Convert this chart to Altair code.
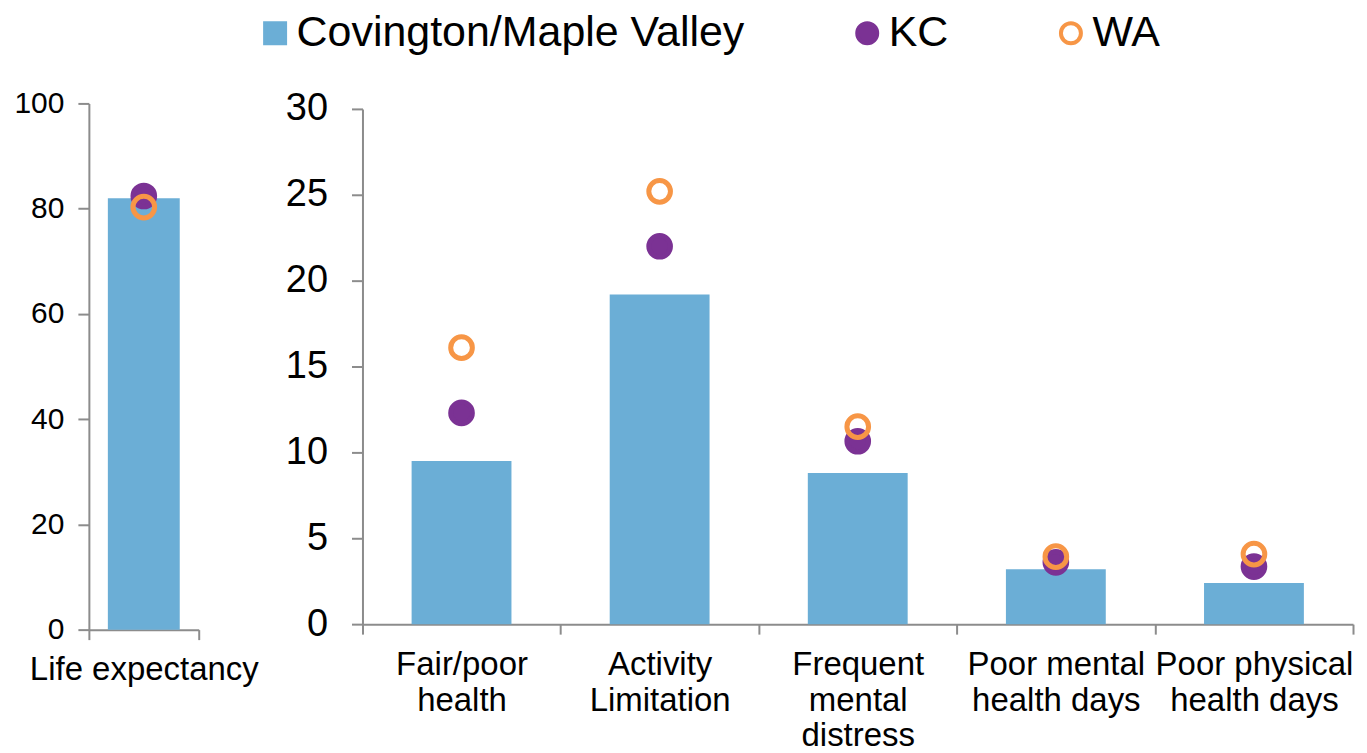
import altair as alt
import pandas as pd

series = ["Covington/Maple Valley", "KC", "WA"]
series_colors = ["#6BAED6", "#7B3294", "#F79646"]
series_fill = ["#6BAED6", "#7B3294", "transparent"]
series_shape = ["square", "circle", "circle"]

left_measures = ["Life expectancy"]
left_area = [82.0]
left_kc = [82.4]
left_wa = [80.3]

right_measures = ["Fair/poor health", "Activity Limitation", "Frequent mental distress",
                  "Poor mental health days", "Poor physical health days"]
right_label_lines = [["Fair/poor", "health"], ["Activity", "Limitation"],
                     ["Frequent", "mental", "distress"], ["Poor mental", "health days"],
                     ["Poor physical", "health days"]]
right_area = [9.5, 19.2, 8.8, 3.2, 2.4]
right_kc = [12.3, 22.0, 10.65, 3.6, 3.35]
right_wa = [16.1, 25.2, 11.5, 3.93, 4.08]


def long(measures, area, kc, wa):
    rows = []
    for m, a, k, w in zip(measures, area, kc, wa):
        rows.append({"measure": m, "series": series[0], "value": a})
        rows.append({"measure": m, "series": series[1], "value": k})
        rows.append({"measure": m, "series": series[2], "value": w})
    return pd.DataFrame(rows)


df_left = long(left_measures, left_area, left_kc, left_wa)
df_right = long(right_measures, right_area, right_kc, right_wa)

FONT = "Liberation Sans"
AXIS_COLOR = "#8C8C8C"

fill_enc = alt.Fill("series:N", scale=alt.Scale(domain=series, range=series_fill),
                    legend=alt.Legend(title=None, orient="none", direction="horizontal",
                                      legendX=165, legendY=-92, labelFontSize=43,
                                      labelFont=FONT, labelColor="#000000",
                                      columnPadding=101, labelOffset=0,
                                      symbolSize=400, symbolStrokeWidth=4,
                                      labelLimit=600))
stroke_enc = alt.Stroke("series:N", scale=alt.Scale(domain=series, range=series_colors))
shape_enc = alt.Shape("series:N", scale=alt.Scale(domain=series, range=series_shape))

label_map = {m: l for m, l in zip(right_measures, right_label_lines)}
label_expr = "{" + ",".join(
    "'" + m + "': [" + ",".join("'" + s + "'" for s in l) + "]" for m, l in label_map.items()
) + "}[datum.value]"


def panel(df, measures, ymax, ystep, width, height, bar_size, ytick_font, ypad, xlabel_expr=None):
    axis_kw = dict(title=None, labelAngle=0, labelFontSize=33, labelFont=FONT,
                   labelColor="#000000", tickBand="extent", tickSize=10, grid=False,
                   domainColor=AXIS_COLOR, tickColor=AXIS_COLOR, domainWidth=2,
                   tickWidth=2, labelPadding=14, labelLineHeight=36,
                   labelBaseline="top", labelLimit=400)
    if xlabel_expr:
        axis_kw["labelExpr"] = xlabel_expr
    x = alt.X("measure:N", sort=measures,
              scale=alt.Scale(paddingInner=0, paddingOuter=0), axis=alt.Axis(**axis_kw))
    y = alt.Y("value:Q", scale=alt.Scale(domain=[0, ymax], nice=False),
              axis=alt.Axis(title=None, values=list(range(0, ymax + 1, ystep)), grid=False,
                            labelFontSize=ytick_font, labelFont=FONT, labelColor="#000000",
                            tickSize=11, labelPadding=ypad, domainColor=AXIS_COLOR,
                            tickColor=AXIS_COLOR, domainWidth=2, tickWidth=2))
    bars = alt.Chart(df).transform_filter(
        alt.datum.series == series[0]
    ).mark_bar(size=bar_size).encode(x=x, y=y, fill=fill_enc)
    pts = alt.Chart(df).transform_filter(
        alt.datum.series != series[0]
    ).mark_point(filled=True, size=470, strokeWidth=5, opacity=1).encode(
        x=x, y=y, fill=fill_enc, stroke=stroke_enc, shape=shape_enc
    )
    return alt.layer(bars, pts).properties(
        width=width, height=height,
        view=alt.ViewBackground(stroke="transparent", strokeWidth=0)
    )


left = panel(df_left, left_measures, 100, 20, 110, 527, 72, 30, 14)
right = panel(df_right, right_measures, 30, 5, 992, 516, 100, 38, 24, label_expr)

chart = alt.hconcat(left, right, spacing=164, bounds="flush", center=True).configure(
    font=FONT, padding={"left": 5, "top": 3, "right": 5, "bottom": 5}
).configure_view(
    strokeWidth=0, stroke="transparent"
)

chart.save("out.html", embed_options={"renderer": "svg", "actions": False})
